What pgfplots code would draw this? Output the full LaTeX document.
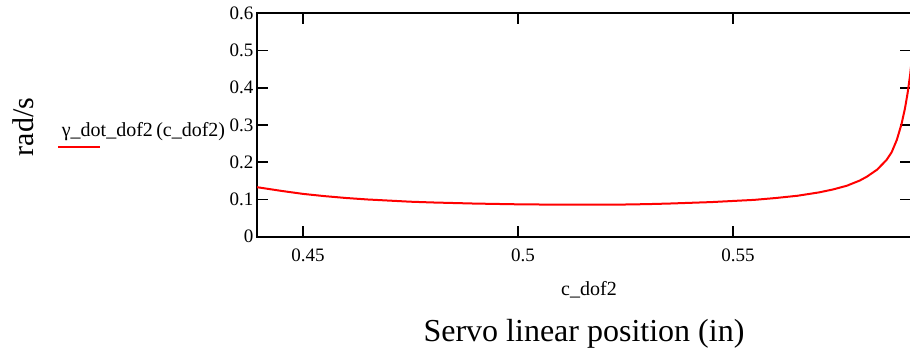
\documentclass[border=0pt]{standalone}
\usepackage{fontspec}
\setmainfont{Liberation Serif}
\usepackage{pgfplots}
\pgfplotsset{compat=1.18}
\pgfplotstableread{
x y
0.4393 0.133
0.445 0.123
0.450 0.115
0.455 0.109
0.460 0.104
0.465 0.100
0.470 0.097
0.475 0.094
0.480 0.092
0.485 0.0905
0.490 0.089
0.495 0.088
0.500 0.087
0.505 0.0865
0.510 0.086
0.515 0.086
0.520 0.086
0.525 0.0865
0.530 0.0875
0.535 0.089
0.540 0.091
0.545 0.093
0.550 0.096
0.555 0.099
0.560 0.104
0.565 0.110
0.570 0.119
0.5733 0.127
0.5765 0.137
0.5795 0.151
0.5811 0.161
0.5835 0.180
0.5857 0.206
0.5869 0.227
0.5881 0.260
0.5892 0.303
0.5900 0.345
0.5906 0.385
0.5912 0.435
0.5916 0.480
}\curvedata
\begin{document}
\begin{tikzpicture}[x=1bp,y=1bp]
\useasboundingbox (0,0) rectangle (910,-354);
\begin{axis}[
  at={(257bp,-236.7bp)}, anchor=south west,
  scale only axis, width=654bp, height=223.4bp,
  xmin=0.4393, xmax=0.5914, ymin=0, ymax=0.6,
  xtick={0.45,0.5,0.55}, xticklabels={0.45,0.5,0.55},
  ytick={0,0.1,0.2,0.3,0.4,0.5,0.6}, yticklabels={0,0.1,0.2,0.3,0.4,0.5,0.6},
  tick align=inside, major tick length=11bp,
  axis line style={line width=2bp},
  every tick/.style={black, line width=1.5bp},
  /pgf/number format/assume math mode=true,
  tick label style={font=\fontsize{19bp}{22bp}\selectfont},
  xticklabel style={anchor=base, inner sep=0pt, yshift=-24.3bp, xshift=5bp},
  yticklabel style={anchor=east, inner sep=0pt, xshift=-3.5bp},
]
\addplot[red, line width=2bp, line join=round] table[x=x, y=y] {\curvedata};
\end{axis}
\draw[red, line width=2bp] (58,-147.3) -- (100,-147.3);
\node[anchor=base west, inner sep=0pt, font=\fontsize{20bp}{24bp}\selectfont] at (61.7,-136) {γ\_dot\_dof2\,(c\_dof2)};
\node[anchor=base, inner sep=0pt, font=\fontsize{20bp}{24bp}\selectfont] at (589,-295) {c\_dof2};
\node[anchor=base, inner sep=0pt, font=\fontsize{32bp}{36bp}\selectfont] at (584,-341.7) {Servo linear position (in)};
\node[anchor=base, rotate=90, inner sep=0pt, font=\fontsize{30bp}{34bp}\selectfont] at (33,-127) {rad/s};
\end{tikzpicture}
\end{document}
